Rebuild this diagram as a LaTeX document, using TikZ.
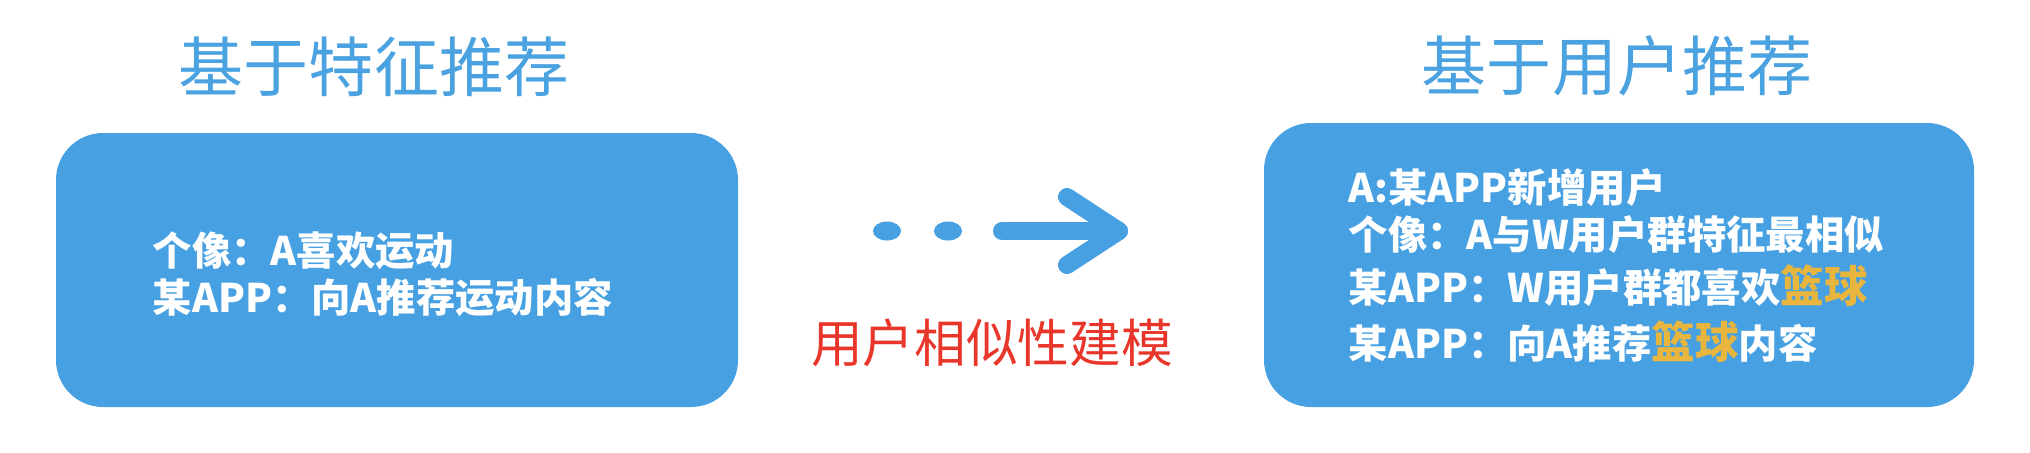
\documentclass[tikz,border=0pt]{standalone}
\usepackage{fontspec}
\newfontfamily\cjk{Noto Sans CJK SC}

\definecolor{boxblue}{HTML}{46A0E2}
\definecolor{titleblue}{HTML}{4AA2E0}
\definecolor{modelred}{HTML}{E8362A}
\definecolor{ballgold}{HTML}{E8B53E}

\tikzset{
    recbox/.style={fill=boxblue, rounded corners=0.47cm, inner sep=0pt},
    title/.style={text=titleblue, inner sep=0pt, font=\cjk\fontsize{18.5}{22}\selectfont},
    line/.style={text=white, anchor=base west, inner sep=0pt, font=\cjk\bfseries\fontsize{11.2}{14}\selectfont},
    arrowline/.style={draw=boxblue, line width=0.18cm, line cap=round, line join=round}
}
\newcommand{\ball}{\textcolor{ballgold}{\fontsize{12.4}{14}\selectfont 篮球}}

\begin{document}
\begin{tikzpicture}
    \useasboundingbox (0,0) rectangle (20.3,4.52);

    % left side
    \node (feattitle) [title] at (3.74,3.85) {基于特征推荐};
    \node (featbox) [recbox, minimum width=6.82cm, minimum height=2.74cm] at (3.97,1.82) {};
    \node (feat1) [line] at (1.52,1.87) {个像：A喜欢运动};
    \node (feat2) [line] at (1.52,1.40) {某APP：向A推荐运动内容};

    % middle
    \fill[boxblue] (8.87,2.21) ellipse (0.14 and 0.095);
    \fill[boxblue] (9.48,2.21) ellipse (0.14 and 0.095);
    \coordinate (tail) at (10.02,2.21);
    \coordinate (tip) at (11.19,2.21);
    \draw[arrowline] (tail) -- (tip);
    \draw[arrowline] (10.67,2.55) -- (tip) -- (10.67,1.87);
    \node (model) [text=modelred, inner sep=0pt, font=\cjk\fontsize{14.7}{18}\selectfont] at (9.92,1.09) {用户相似性建模};

    % right side
    \node (usertitle) [title] at (16.17,3.86) {基于用户推荐};
    \node (userbox) [recbox, minimum width=7.10cm, minimum height=2.84cm] at (16.19,1.87) {};
    \node (user1) [line] at (13.48,2.50) {A:某APP新增用户};
    \node (user2) [line] at (13.48,2.03) {个像：A与W用户群特征最相似};
    \node (user3) [line] at (13.48,1.50) {某APP：W用户群都喜欢\ball};
    \node (user4) [line] at (13.48,0.94) {某APP：向A推荐\ball 内容};
\end{tikzpicture}
\end{document}
